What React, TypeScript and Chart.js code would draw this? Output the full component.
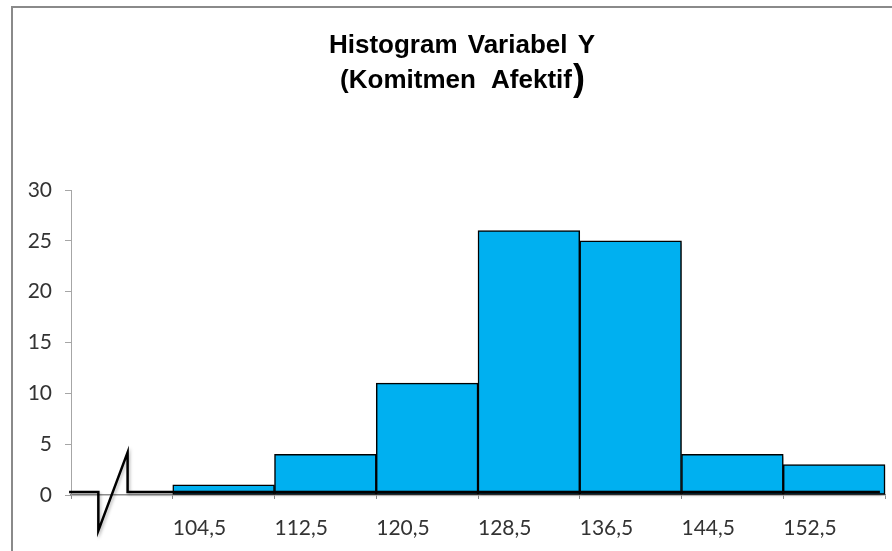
import React, { useEffect, useRef } from 'react';
import { Chart, registerables } from 'chart.js';

Chart.register(...registerables);

// ---- data ----
const titleLine1 = 'Histogram Variabel Y';
const titleLine2 = '(Komitmen Afektif';
const titleClose = ')';
const binStarts = [104.5, 112.5, 120.5, 128.5, 136.5, 144.5, 152.5];
const binWidth = 8;
const frequencies = [1, 4, 11, 26, 25, 4, 3];
const xTickLabels = ['104,5', '112,5', '120,5', '128,5', '136,5', '144,5', '152,5'];
const yTickValues = [0, 5, 10, 15, 20, 25, 30];
const axisMinX = 96.5;
const axisMaxX = 160.5;
// axis-break symbol, in data units
const breakPathX = [96.35, 98.65, 98.65, 100.95, 100.95, 160.1];
const breakPathY = [0.3, 0.3, -3.5, 4.2, 0.3, 0.3];

const LABEL_FONT = 'Lato, "Open Sans", sans-serif';
const TITLE_FONT = '"Liberation Sans", Arial, sans-serif';

const titlePlugin = {
  id: 'customTitle',
  afterDraw(chart: any) {
    const ctx = chart.ctx;
    const cx = 462;
    ctx.save();
    ctx.fillStyle = '#000';
    ctx.textBaseline = 'alphabetic';
    ctx.font = `bold 26px ${TITLE_FONT}`;
    (ctx as any).wordSpacing = '3px';
    ctx.textAlign = 'center';
    ctx.fillText(titleLine1, cx, 53);
    (ctx as any).wordSpacing = '8px';
    const w2 = ctx.measureText(titleLine2).width;
    ctx.font = `bold 36px ${TITLE_FONT}`;
    const wc = ctx.measureText(titleClose).width;
    const total = w2 + wc;
    const start = cx - total / 2;
    ctx.textAlign = 'left';
    ctx.font = `bold 26px ${TITLE_FONT}`;
    ctx.fillText(titleLine2, start, 88);
    ctx.font = `bold 36px ${TITLE_FONT}`;
    ctx.fillText(titleClose, start + w2 + 1, 90);
    ctx.restore();
  },
};

const shadowPlugin = {
  id: 'barShadowAndBreak',
  beforeDatasetsDraw(chart: any) {
    const ctx = chart.ctx;
    ctx.save();
    ctx.shadowColor = 'rgba(0,0,0,0.28)';
    ctx.shadowOffsetX = 2.5;
    ctx.shadowOffsetY = 2.5;
    ctx.shadowBlur = 3;
  },
  afterDatasetsDraw(chart: any) {
    const ctx = chart.ctx;
    ctx.restore();
    const xs = chart.scales.x;
    const ys = chart.scales.y;
    ctx.save();
    ctx.shadowColor = 'rgba(0,0,0,0.25)';
    ctx.shadowOffsetX = 1.5;
    ctx.shadowOffsetY = 2;
    ctx.shadowBlur = 3;
    ctx.strokeStyle = '#000';
    ctx.lineWidth = 2.5;
    ctx.lineJoin = 'miter';
    ctx.beginPath();
    breakPathX.forEach((v, i) => {
      const px = xs.getPixelForValue(v);
      const py = ys.getPixelForValue(breakPathY[i]);
      if (i === 0) ctx.moveTo(px, py);
      else ctx.lineTo(px, py);
    });
    ctx.stroke();
    ctx.restore();
  },
};

export default function App() {
  const canvasRef = useRef<HTMLCanvasElement | null>(null);

  useEffect(() => {
    const canvas = canvasRef.current;
    if (!canvas) return;
    const chart = new Chart(canvas, {
      type: 'bar',
      data: {
        datasets: [
          {
            label: 'Frekuensi',
            data: binStarts.map((s, i) => ({ x: s + binWidth / 2, y: frequencies[i] })),
            backgroundColor: '#00B0F0',
            borderColor: '#000000',
            borderWidth: 1.5,
            borderSkipped: false,
            barPercentage: 1,
            categoryPercentage: 1,
            clip: false as any,
          },
        ],
      },
      options: {
        responsive: false,
        animation: false,
        devicePixelRatio: 1,
        layout: { padding: { top: 190, right: 7, left: 0, bottom: 0 } },
        plugins: {
          legend: { display: false },
          title: { display: false },
          tooltip: { enabled: false },
        },
        scales: {
          x: {
            type: 'linear',
            min: axisMinX,
            max: axisMaxX,
            offset: false,
            grid: {
              offset: false,
              drawOnChartArea: false,
              drawTicks: true,
              tickLength: 4,
              color: '#8c8c8c',
            },
            border: { color: '#8c8c8c', width: 1.5 },
            ticks: {
              stepSize: binWidth,
              align: 'start',
              padding: 17,
              maxRotation: 0,
              autoSkip: false,
              color: '#333333',
              font: { family: LABEL_FONT, size: 21 },
              callback: (value: any) => {
                const idx = binStarts.findIndex((b) => Math.abs(b - Number(value)) < 1e-6);
                return idx >= 0 ? xTickLabels[idx] : '';
              },
            },
            afterFit: (scale: any) => {
              scale.height = 56;
              scale.paddingRight = 0;
              scale.paddingLeft = 0;
            },
          },
          y: {
            min: yTickValues[0],
            max: yTickValues[yTickValues.length - 1],
            grid: {
              drawOnChartArea: false,
              drawTicks: true,
              tickLength: 6,
              color: '#a6a6a6',
            },
            border: { color: '#a6a6a6', width: 1 },
            ticks: {
              stepSize: yTickValues[1] - yTickValues[0],
              padding: 13,
              color: '#333333',
              font: { family: LABEL_FONT, size: 21 },
            },
            afterFit: (scale: any) => {
              scale.width = 71;
            },
          },
        },
      } as any,
      plugins: [shadowPlugin, titlePlugin],
    });
    return () => chart.destroy();
  }, []);

  return (
    <div
      style={{
        position: 'fixed',
        left: 0,
        top: 0,
        width: 892,
        height: 551,
        overflow: 'hidden',
        background: '#ffffff',
      }}
    >
      <div
        style={{
          position: 'absolute',
          left: 11,
          top: 6,
          width: 1000,
          height: 700,
          border: '2px solid #8a8a8a',
          boxSizing: 'border-box',
        }}
      />
      <canvas
        ref={canvasRef}
        width={892}
        height={551}
        style={{ position: 'absolute', left: 0, top: 0, width: 892, height: 551 }}
      />
    </div>
  );
}
